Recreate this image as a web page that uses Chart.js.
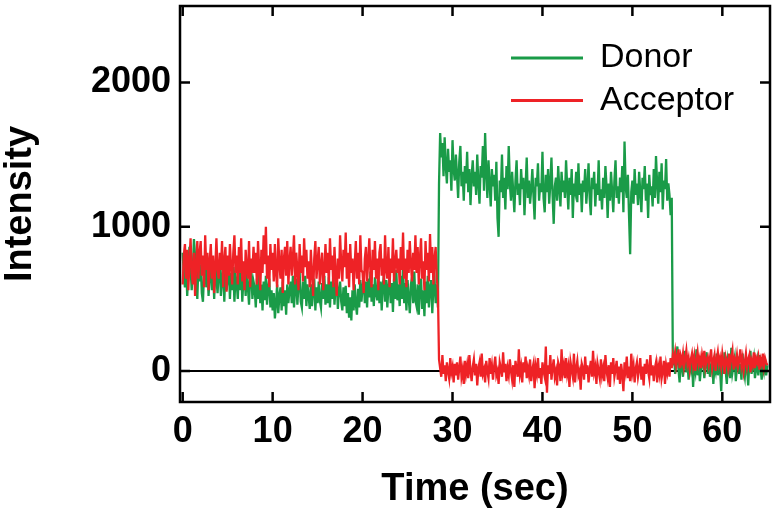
<!DOCTYPE html>
<html>
<head>
<meta charset="utf-8">
<script src="https://cdn.jsdelivr.net/npm/chart.js@4.4.1/dist/chart.umd.min.js"></script>
<style>
  html, body { margin: 0; padding: 0; background: #fff; }
  #wrap { width: 778px; height: 516px; }
</style>
</head>
<body>
<div id="wrap"><canvas id="trace" width="778" height="516"></canvas></div>
<script>
// sampling of the trace (sec)
const timeStart = 0;
const timeStep = 0.125;

// donor intensity (16 frames = 2 s per row)
const donorBefore = [ // 0 - 28.375 s
  820, 660, 580, 760, 520, 680, 860, 720, 560, 700, 915, 800, 600, 500, 740, 620,
  740, 540, 480, 680, 800, 580, 720, 520, 660, 760, 560, 700, 500, 740, 640, 540,
  680, 740, 520, 620, 780, 480, 700, 560, 640, 740, 500, 680, 560, 720, 480, 660,
  620, 500, 700, 560, 740, 480, 640, 680, 520, 720, 580, 460, 660, 700, 500, 620,
  580, 440, 640, 500, 680, 470, 600, 420, 620, 490, 660, 460, 580, 640, 440, 560,
  420, 540, 365, 470, 600, 400, 520, 580, 420, 620, 450, 560, 390, 600, 470, 560,
  620, 470, 660, 440, 580, 640, 460, 600, 690, 480, 440, 620, 500, 660, 450, 600,
  520, 430, 600, 450, 560, 640, 420, 580, 470, 620, 490, 440, 610, 500, 660, 460,
  600, 470, 650, 440, 620, 500, 680, 460, 590, 640, 430, 560, 620, 480, 420, 580,
  450, 590, 400, 540, 370, 510, 350, 560, 420, 600, 460, 390, 570, 440, 630, 480,
  580, 660, 470, 620, 440, 640, 510, 690, 480, 600, 450, 650, 540, 490, 680, 470,
  620, 420, 600, 660, 480, 630, 440, 580, 670, 470, 610, 410, 640, 500, 700, 490,
  600, 450, 660, 500, 720, 470, 610, 420, 630, 510, 400, 600, 650, 470, 690, 490,
  450, 600, 390, 580, 640, 430, 560, 380, 620, 470, 660, 440, 580, 630, 400, 590,
  640, 470, 600, 440
];
const donorHigh = [ // 28.5 - 54.375 s
  1300, 1650, 1480, 1580, 1350, 1620, 1420, 1300, 1540, 1380, 1460, 1250, 1600, 1400, 1320, 1500,
  1360, 1200, 1450, 1560, 1280, 1380, 1180, 1420, 1300, 1520, 1240, 1400, 1150, 1350, 1460, 1280,
  1380, 1220, 1500, 1300, 1160, 1420, 1340, 1560, 1250, 1650, 1380, 1200, 1460, 1300, 1140, 1400,
  1280, 1360, 1180, 1450, 1060, 930, 1320, 1240, 1500, 1200, 1340, 1120, 1420, 1260, 1560, 1300,
  1180, 1380, 1240, 1100, 1320, 1460, 1220, 1300, 1150, 1400, 1260, 1340, 1080, 1280, 1480, 1200,
  1320, 1160, 1260, 1400, 1220, 1050, 1340, 1280, 1440, 1180, 1300, 1240, 1520, 1200, 1100, 1360,
  1240, 1400, 1160, 1300, 1480, 1220, 1020, 1280, 1340, 1180, 1420, 1260, 1140, 1380, 1240, 1320,
  1200, 1460, 1280, 1120, 1340, 1220, 1400, 1060, 1300, 1250, 1380, 1170, 1440, 1220, 1300, 1100,
  1320, 1240, 1400, 1160, 1280, 1440, 1200, 1080, 1340, 1260, 1380, 1140, 1300, 1220, 1460, 1180,
  1260, 1120, 1340, 1200, 1420, 1280, 1060, 1300, 1180, 1380, 1240, 1100, 1320, 1460, 1200, 1280,
  1160, 1340, 1240, 1420, 1100, 1590, 1280, 1200, 1360, 1080, 810, 1240, 1320, 1160, 1400, 1220,
  1300, 1150, 1380, 1240, 1100, 1340, 1260, 1420, 1180, 1300, 1060, 1360, 1220, 1280, 1140, 1400,
  1200, 1490, 1300, 1160, 1380, 1240, 1440, 1120, 1320, 1260, 1470, 1180, 1300, 1220, 1080, 1200
];
const donorAfter = [ // 54.5 - 65 s
  40, 120, -20, 70, 170, 10, -80, 90, 30, -40, 60, 140, -10, 50, -60, 80,
  20, 100, -110, 50, 0, 150, -30, 80, -70, 20, 110, 40, -50, 60, 130, -20,
  70, -40, 30, 90, -90, 40, 0, 120, -30, 60, 10, -140, 80, -20, 130, 0,
  -90, 70, 20, -50, 160, -10, 40, 90, -70, 30, 100, -20, 50, -60, 120, 10,
  -40, 80, 30, -100, 60, 140, -20, 40, 90, -50, 10, 70, -30, 110, 20, -60,
  50, 0, 80, -30, 40
];

// acceptor intensity
const acceptorBefore = [
  600, 800, 880, 640, 840, 560, 760, 920, 680, 600, 820, 520, 740, 900, 640, 820,
  900, 660, 800, 580, 940, 700, 820, 560, 760, 880, 640, 800, 540, 720, 920, 700,
  640, 820, 700, 900, 580, 760, 860, 550, 800, 660, 880, 720, 600, 820, 940, 680,
  800, 600, 860, 680, 920, 620, 760, 560, 840, 700, 640, 900, 580, 780, 680, 860,
  680, 820, 600, 900, 720, 560, 840, 680, 940, 740, 1000, 640, 800, 580, 880, 700,
  820, 620, 880, 680, 580, 920, 740, 640, 840, 540, 780, 860, 660, 900, 600, 760,
  860, 660, 780, 940, 600, 820, 700, 560, 880, 680, 800, 620, 920, 720, 840, 640,
  760, 580, 840, 680, 520, 780, 900, 640, 760, 860, 600, 740, 820, 560, 700, 880,
  680, 820, 600, 920, 700, 800, 580, 860, 680, 520, 780, 640, 940, 740, 620, 840,
  720, 960, 640, 820, 580, 880, 680, 780, 560, 740, 900, 640, 820, 600, 940, 700,
  680, 540, 780, 860, 620, 760, 920, 680, 580, 840, 700, 900, 640, 780, 560, 820,
  880, 660, 780, 600, 940, 700, 640, 860, 580, 780, 680, 920, 620, 760, 840, 680,
  780, 600, 860, 700, 960, 640, 780, 580, 840, 680, 900, 740, 620, 820, 700, 940,
  680, 860, 600, 780, 920, 640, 760, 560, 900, 700, 820, 620, 950, 680, 860, 600,
  780, 860, 640, 560
];
const acceptorLow = [
  80, 20, -40, 110, -20, 40, -70, 60, 0, -50, 90, -10, 30, -80, 50, -30,
  60, -60, 20, 100, -40, 10, -90, 70, -20, 40, -50, 110, 0, -70, 30, 80,
  -30, 50, -100, 20, 60, -40, 120, -20, 10, -80, 70, 0, -50, 90, -20, 40,
  -60, 30, 100, -30, 0, -90, 60, 20, -40, 130, -10, 50, -70, 20, -30, 80,
  0, -60, 40, -110, 70, 10, -40, 150, -20, 30, -80, 60, -10, 100, -50, 20,
  -30, 80, -70, 10, 50, -120, 30, -20, 90, -50, 20, -90, 60, 0, -40, 170,
  -150, 40, -20, 110, -60, 20, 80, -40, 0, -100, 60, 30, -70, 150, -10, 40,
  -50, 90, -20, 30, -110, 60, 10, -40, 120, -80, 20, 70, -30, 0, -130, 50,
  20, -60, 100, -20, 40, -80, 10, 70, -40, 140, -10, 30, -90, 50, 0, -50,
  80, -30, 20, -70, 110, 0, -50, 40, -110, 60, -20, 90, -40, 10, 70, -60,
  30, -90, 50, -20, -140, 60, 0, 100, -50, 30, -70, 120, -10, 40, -80, 20,
  60, -40, 10, 90, -60, 30, -100, 50, -20, 80, 0, -50, 110, -30, 40, -70,
  20, 60, -80, 30, -20, 100, -50, 0, 70, -90, 40, -10, 60, -40, 90, 20
];
const acceptorAfter = [
  110, 70, 130, 40, 90, 150, 20, 100, 60, 120, 30, 80, 140, 50, 90, 10,
  80, 120, 40, 100, 0, 70, 130, 50, 90, 20, 110, 60, 140, 30, 80, 100,
  40, 90, 150, 20, 70, 110, 0, 80, 130, 50, 90, 30, 120, 60, -20, 100,
  70, 20, 120, 40, 90, 140, 10, 80, 50, 110, 30, 70, 150, 40, 90, 0,
  60, 120, 30, 80, 110, -10, 70, 40, 130, 20, 90, 60, 100, 10, 80, 50,
  120, 30, 90, 60, 40
];

const xTickValues = [0, 10, 20, 30, 40, 50, 60];
const yTickValues = [0, 1000, 2000];

const donorValues = donorBefore.concat(donorHigh, donorAfter);
const acceptorValues = acceptorBefore.concat(acceptorLow, acceptorAfter);

function toPoints(vals) {
  return vals.map((v, i) => ({ x: timeStart + i * timeStep, y: v }));
}

const FONT = "'Liberation Sans', Arial, Helvetica, sans-serif";
const GREEN = '#1a9b48';
const RED = '#ee2226';

// frame, inward ticks, zero line and legend
const framePlugin = {
  id: 'frame',
  beforeDatasetsDraw(chart) {
    const ctx = chart.ctx;
    const y = chart.scales.y;
    const a = chart.chartArea;
    ctx.save();
    ctx.strokeStyle = '#000';
    ctx.lineWidth = 2;
    ctx.beginPath();
    ctx.moveTo(a.left, y.getPixelForValue(0));
    ctx.lineTo(a.right, y.getPixelForValue(0));
    ctx.stroke();
    ctx.restore();
  },
  afterDatasetsDraw(chart) {
    const ctx = chart.ctx;
    const a = chart.chartArea;
    const x = chart.scales.x;
    const y = chart.scales.y;
    const tick = 10;
    ctx.save();
    ctx.strokeStyle = '#000';
    ctx.lineWidth = 2.5;
    ctx.strokeRect(a.left, a.top, a.right - a.left, a.bottom - a.top);
    ctx.beginPath();
    xTickValues.forEach(v => {
      const px = x.getPixelForValue(v);
      ctx.moveTo(px, a.bottom); ctx.lineTo(px, a.bottom - tick);
      ctx.moveTo(px, a.top); ctx.lineTo(px, a.top + tick);
    });
    yTickValues.forEach(v => {
      const py = y.getPixelForValue(v);
      ctx.moveTo(a.left, py); ctx.lineTo(a.left + tick, py);
      ctx.moveTo(a.right, py); ctx.lineTo(a.right - tick, py);
    });
    ctx.stroke();

    // legend
    ctx.font = '34px ' + FONT;
    ctx.textBaseline = 'middle';
    ctx.textAlign = 'left';
    chart.data.datasets.forEach((ds, i) => {
      const ly = 58 + i * 42.6;
      ctx.strokeStyle = ds.borderColor;
      ctx.lineWidth = 3;
      ctx.beginPath();
      ctx.moveTo(511, ly);
      ctx.lineTo(583, ly);
      ctx.stroke();
      ctx.fillStyle = '#000';
      ctx.fillText(ds.label, 600, ly);
    });
    ctx.restore();
  }
};

new Chart(document.getElementById('trace'), {
  type: 'line',
  data: {
    datasets: [
      {
        label: 'Donor',
        data: toPoints(donorValues),
        borderColor: GREEN,
        borderWidth: 2.3,
        pointRadius: 0,
        tension: 0,
        order: 2
      },
      {
        label: 'Acceptor',
        data: toPoints(acceptorValues),
        borderColor: RED,
        borderWidth: 2.3,
        pointRadius: 0,
        tension: 0,
        order: 1
      }
    ]
  },
  options: {
    responsive: false,
    animation: false,
    devicePixelRatio: 1,
    layout: { padding: { top: 6, right: 8, left: 0, bottom: 0 } },
    plugins: {
      legend: { display: false },
      tooltip: { enabled: false }
    },
    scales: {
      x: {
        type: 'linear',
        position: 'bottom',
        min: -0.3,
        max: 65.3,
        afterBuildTicks: s => { s.ticks = xTickValues.map(v => ({ value: v })); },
        afterFit: s => { s.height = 114; s.paddingLeft = 0; s.paddingRight = 0; },
        grid: { display: false, drawTicks: false },
        border: { display: false },
        ticks: {
          color: '#000',
          padding: 8,
          maxRotation: 0,
          callback: v => String(v),
          font: { family: FONT, size: 36, weight: 'bold' }
        },
        title: {
          display: true,
          text: 'Time (sec)',
          color: '#000',
          font: { family: FONT, size: 38, weight: 'bold', lineHeight: 1 },
          padding: { top: 0, bottom: 7.5 }
        }
      },
      y: {
        type: 'linear',
        position: 'left',
        min: -215,
        max: 2530,
        afterBuildTicks: s => { s.ticks = yTickValues.map(v => ({ value: v })); },
        afterFit: s => { s.width = 180; s.paddingTop = 0; s.paddingBottom = 0; },
        grid: { display: false, drawTicks: false },
        border: { display: false },
        ticks: {
          color: '#000',
          padding: 9,
          callback: v => String(v),
          font: { family: FONT, size: 36, weight: 'bold' }
        },
        title: {
          display: true,
          text: 'Intensity',
          color: '#000',
          font: { family: FONT, size: 38, weight: 'bold', lineHeight: 1 },
          padding: { top: 2, bottom: 0 }
        }
      }
    }
  },
  plugins: [framePlugin]
});
</script>
</body>
</html>
